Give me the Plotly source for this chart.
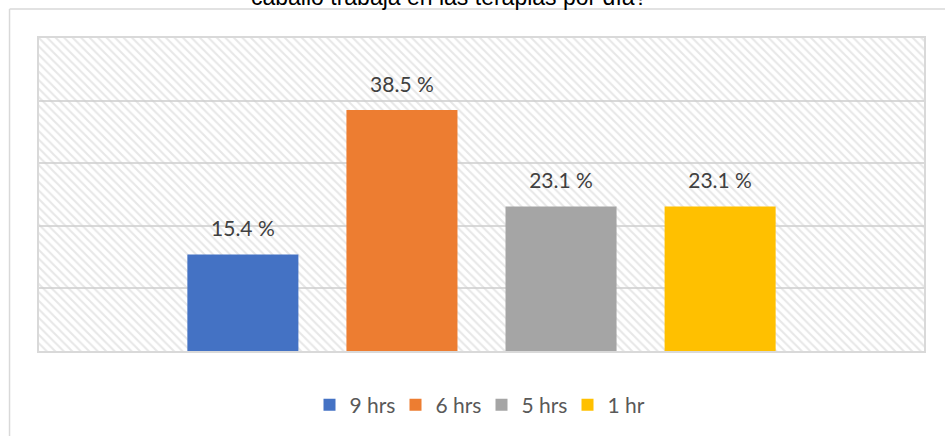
import plotly.graph_objects as go

title_text = "caballo trabaja en las terapias por día?"
category = ["Horas"]
series_names = ["9 hrs", "6 hrs", "5 hrs", "1 hr"]
series_values = [15.4, 38.5, 23.1, 23.1]
series_colors = ["#4472C4", "#ED7D31", "#A5A5A5", "#FFC000"]
y_max = 50
y_step = 10

grid_color = "#d9d9d9"
hatch_color = "#d0d0d0"
bar_gap = 0.281
bar_group_gap = 0.302

fig = go.Figure()

# hatched plot background (drawn on the base axes, under the bars)
fig.add_trace(go.Bar(
    x=category, y=[y_max], width=1,
    marker=dict(color="rgba(0,0,0,0)", line=dict(width=0),
                pattern=dict(shape="\\", fgcolor=hatch_color, bgcolor="rgba(0,0,0,0)",
                             size=6, solidity=0.35)),
    showlegend=False, hoverinfo="skip", xaxis="x", yaxis="y",
))

for name, val, col in zip(series_names, series_values, series_colors):
    fig.add_trace(go.Bar(
        x=category, y=[val], name=name, offsetgroup=name, alignmentgroup="g",
        marker=dict(color=col, line=dict(width=0)),
        xaxis="x2", yaxis="y2", hoverinfo="skip",
    ))

for name, val in zip(series_names, series_values):
    fig.add_trace(go.Scatter(
        x=category, y=[val], mode="markers+text", offsetgroup=name, alignmentgroup="g",
        marker=dict(size=19, opacity=0),
        text=[f"{val:.1f} %"], textposition="top center",
        textfont=dict(family="Lato", size=21, color="#404040"),
        showlegend=False, hoverinfo="skip", xaxis="x2", yaxis="y2",
    ))

axis_common = dict(showticklabels=False, ticks="", zeroline=False)

frame_line = dict(color=grid_color, width=1.5)

fig.update_layout(
    width=945, height=436,
    margin=dict(l=39, r=21, t=38, b=84),
    paper_bgcolor="white", plot_bgcolor="white",
    barmode="group", bargap=bar_gap, bargroupgap=bar_group_gap,
    scattermode="group", scattergap=bar_gap,
    xaxis=dict(type="category", range=[-0.5, 0.5], showgrid=False,
               showline=True, mirror=True, linecolor=grid_color, linewidth=1.5, **axis_common),
    yaxis=dict(range=[0, y_max], dtick=y_step, showgrid=True, gridcolor=grid_color, gridwidth=1.5,
               showline=True, mirror=True, linecolor=grid_color, linewidth=1.5, **axis_common),
    xaxis2=dict(type="category", range=[-0.5, 0.5], overlaying="x",
                showgrid=False, showline=False, **axis_common),
    yaxis2=dict(range=[0, y_max], overlaying="y", showgrid=False, showline=False, **axis_common),
    showlegend=True,
    legend=dict(orientation="h", x=0.5, xanchor="center", y=-0.169, yanchor="middle",
                font=dict(family="Lato", size=21, color="#595959"),
                entrywidth=41, bgcolor="rgba(0,0,0,0)"),
    shapes=[
        dict(type="line", xref="paper", yref="paper", x0=-0.0333, x1=-0.0333, y0=-0.3, y1=1.0924,
             line=frame_line, layer="below"),
        dict(type="line", xref="paper", yref="paper", x0=-0.0333, x1=1.2, y0=1.0924, y1=1.0924,
             line=frame_line, layer="below"),
    ],
    annotations=[dict(text=title_text, xref="paper", yref="paper", x=0.4633, y=1.083,
                      xanchor="center", yanchor="bottom", showarrow=False,
                      font=dict(family="Liberation Sans", size=23, color="#000000"))],
)

fig.write_html(
    "out.html",
    config={"displayModeBar": False},
    post_script="document.body.style.margin='0';document.body.style.overflow='hidden';",
)
